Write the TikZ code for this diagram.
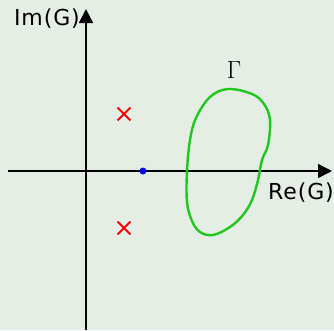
\documentclass[tikz,border=0pt]{standalone}
\usepackage{fontspec}
\usetikzlibrary{arrows.meta,positioning,shapes.misc}
\newfontfamily\plotfont[LetterSpace=4]{DejaVu Sans}
\definecolor{plotbg}{HTML}{E4EEE4}
\definecolor{polered}{HTML}{FF0000}
\definecolor{zeroblue}{HTML}{0000FF}
\definecolor{gammagreen}{HTML}{1EC81E}
\tikzset{
  axis/.style={-{Triangle[length=14pt,width=14pt]}, line width=1.6pt, color=black},
  axlabel/.style={inner sep=0pt, text=black, font=\plotfont\fontsize{22}{26}\selectfont},
  pole/.style={cross out, draw=polered, line width=1.8pt, minimum size=11pt, inner sep=0pt},
  zero/.style={circle, fill=zeroblue, minimum size=7pt, inner sep=0pt},
  contour/.style={draw=gammagreen, line width=2.4pt}}

\begin{document}
\begin{tikzpicture}[x=1pt,y=-1pt]
    \fill[plotbg] (0,0) rectangle (334,330);
    \useasboundingbox (0,0) rectangle (334,330);
    % axes
    \coordinate (xl) at (8,171);
    \coordinate (xr) at (332,171);
    \coordinate (yb) at (86,330);
    \coordinate (yt) at (86,9);
    \draw[axis] (xl) -- (xr);
    \draw[axis] (yb) -- (yt);
    \node[axlabel, anchor=east] (im) at (80,19) {Im(G)};
    \node[axlabel, anchor=east] (re) at (334,193) {Re(G)};
    % poles and zero
    \node[pole] (p1) at (124,114) {};
    \node[pole] (p2) at (124,228) {};
    \node[zero] (z1) at (143,171) {};
    % the contour
    \draw[contour] plot[smooth cycle, tension=0.6] coordinates {
      (228,89) (252,94) (264,104) (270,120) (268,145) (262,160) (258,180)
      (252,200) (243,215) (230,227) (213,235) (200,232) (192,221) (187,202)
      (187,171) (190,140) (196,118) (210,97)};
    \node[font=\fontsize{23}{26}\selectfont, inner sep=0pt] (gam) at (234,70) {$\Gamma$};
  \end{tikzpicture}
\end{document}
